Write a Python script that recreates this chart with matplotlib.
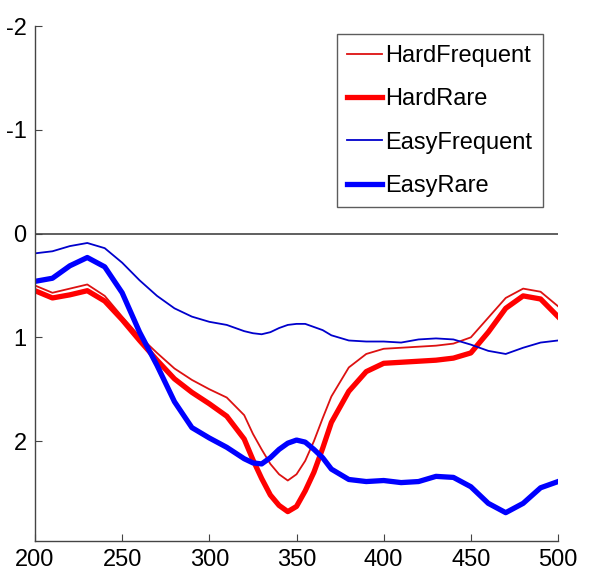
import matplotlib
matplotlib.use("Agg")
import matplotlib.pyplot as plt

plt.rcParams['font.family'] = ['Liberation Sans', 'DejaVu Sans']
plt.rcParams['axes.unicode_minus'] = False

# time axis (ms), shared by all four curves
x_ms = [200, 210, 220, 230, 240, 250, 260, 270, 280, 290, 300, 310, 320,
        325, 330, 335, 340, 345, 350, 355, 360, 365, 370,
        380, 390, 400, 410, 420, 430, 440, 450, 460, 470, 480, 490, 500]

hard_frequent = [0.50, 0.57, 0.53, 0.49, 0.60, 0.80, 0.99, 1.15, 1.30, 1.41, 1.50, 1.58, 1.75,
                 1.93, 2.08, 2.22, 2.32, 2.38, 2.32, 2.19, 2.00, 1.78, 1.57,
                 1.29, 1.16, 1.11, 1.10, 1.09, 1.08, 1.06, 1.00, 0.81, 0.62, 0.53, 0.56, 0.70]

hard_rare = [0.55, 0.62, 0.59, 0.55, 0.65, 0.83, 1.03, 1.22, 1.40, 1.53, 1.64, 1.76, 1.98,
             2.18, 2.36, 2.52, 2.62, 2.68, 2.63, 2.48, 2.30, 2.07, 1.82,
             1.52, 1.33, 1.25, 1.24, 1.23, 1.22, 1.20, 1.15, 0.95, 0.72, 0.60, 0.63, 0.80]

easy_frequent = [0.19, 0.17, 0.12, 0.09, 0.14, 0.28, 0.45, 0.60, 0.72, 0.80, 0.85, 0.88, 0.94,
                 0.96, 0.97, 0.95, 0.91, 0.88, 0.87, 0.87, 0.90, 0.93, 0.98,
                 1.03, 1.04, 1.04, 1.05, 1.02, 1.01, 1.02, 1.07, 1.13, 1.16, 1.10, 1.05, 1.03]

easy_rare = [0.46, 0.43, 0.31, 0.23, 0.32, 0.57, 0.95, 1.27, 1.62, 1.87, 1.97, 2.06, 2.17,
             2.21, 2.22, 2.16, 2.08, 2.02, 1.99, 2.01, 2.08, 2.16, 2.27,
             2.37, 2.39, 2.38, 2.40, 2.39, 2.34, 2.35, 2.44, 2.60, 2.69, 2.60, 2.45, 2.39]

x_ticks = [200, 250, 300, 350, 400, 450, 500]
y_ticks = [-2, -1, 0, 1, 2]

fig = plt.figure(figsize=(5.89, 5.82), dpi=100)
ax = fig.add_axes([0.0594, 0.071, 0.888, 0.884])

ax.plot([200, 500], [0, 0], color='#444444', lw=1.2)

ax.plot(x_ms, hard_frequent, color='#dd1111', lw=1.3, label='HardFrequent',
        solid_joinstyle='round')
ax.plot(x_ms, hard_rare, color='#ff0000', lw=3.8, label='HardRare',
        solid_joinstyle='round')
ax.plot(x_ms, easy_frequent, color='#0000cc', lw=1.3, label='EasyFrequent',
        solid_joinstyle='round')
ax.plot(x_ms, easy_rare, color='#0000ff', lw=3.8, label='EasyRare',
        solid_joinstyle='round')

ax.set_xlim(200, 500)
ax.set_ylim(2.96, -2)
ax.set_xticks(x_ticks)
ax.set_yticks(y_ticks)

for side in ['top', 'right']:
    ax.spines[side].set_visible(False)
for side in ['left', 'bottom']:
    ax.spines[side].set_color('#444444')
    ax.spines[side].set_linewidth(1.0)

ax.tick_params(direction='in', length=5, color='#444444', labelsize=17, pad=6)

leg = ax.legend(loc='upper right', bbox_to_anchor=(0.971, 0.984), borderaxespad=0,
                fontsize=17, fancybox=False, frameon=True, handlelength=1.45,
                handletextpad=0.15, labelspacing=0.9, borderpad=0.45)
leg.get_frame().set_edgecolor('#333333')
leg.get_frame().set_linewidth(1.0)

fig.savefig("out.png", dpi=100)
